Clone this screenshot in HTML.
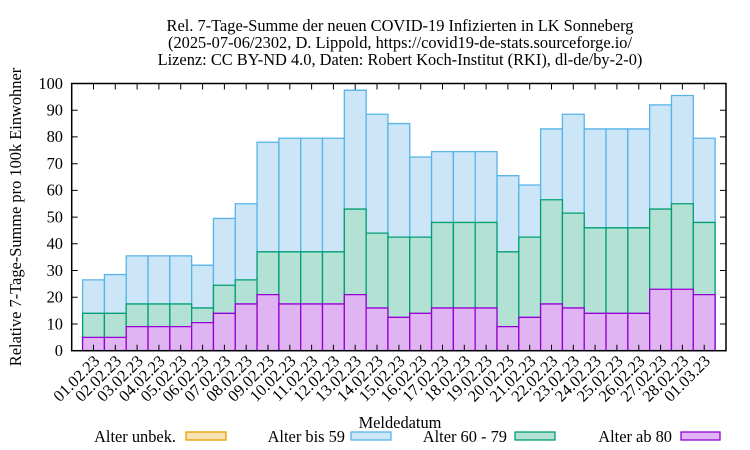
<!DOCTYPE html>
<html><head><meta charset="utf-8"><style>body{margin:0;background:#fff}svg{display:block}</style></head>
<body>
<svg width="750" height="450" xmlns="http://www.w3.org/2000/svg" font-family="Liberation Serif, serif" font-size="16.4" fill="#000">
<g text-anchor="middle">
<text x="400" y="31">Rel. 7-Tage-Summe der neuen COVID-19 Infizierten in LK Sonneberg</text>
<text x="400" y="48">(2025-07-06/2302, D. Lippold, https://covid19-de-stats.sourceforge.io/</text>
<text x="400" y="65">Lizenz: CC BY-ND 4.0, Daten: Robert Koch-Institut (RKI), dl-de/by-2-0)</text>
<text x="400" y="428">Meldedatum</text>
<text transform="translate(21,217) rotate(-90)">Relative 7-Tage-Summe pro 100k Einwohner</text>
</g>
<g transform="translate(82.6,350.7) scale(21.81,-2.672)" stroke-width="1.3">
<g fill="#cce6f8" stroke="#56b4e9">
<rect vector-effect="non-scaling-stroke" x="0" y="0" width="1" height="26.5"/>
<rect vector-effect="non-scaling-stroke" x="1" y="0" width="1" height="28.5"/>
<rect vector-effect="non-scaling-stroke" x="2" y="0" width="1" height="35.5"/>
<rect vector-effect="non-scaling-stroke" x="3" y="0" width="1" height="35.5"/>
<rect vector-effect="non-scaling-stroke" x="4" y="0" width="1" height="35.5"/>
<rect vector-effect="non-scaling-stroke" x="5" y="0" width="1" height="32"/>
<rect vector-effect="non-scaling-stroke" x="6" y="0" width="1" height="49.5"/>
<rect vector-effect="non-scaling-stroke" x="7" y="0" width="1" height="55"/>
<rect vector-effect="non-scaling-stroke" x="8" y="0" width="1" height="78"/>
<rect vector-effect="non-scaling-stroke" x="9" y="0" width="1" height="79.5"/>
<rect vector-effect="non-scaling-stroke" x="10" y="0" width="1" height="79.5"/>
<rect vector-effect="non-scaling-stroke" x="11" y="0" width="1" height="79.5"/>
<rect vector-effect="non-scaling-stroke" x="12" y="0" width="1" height="97.5"/>
<rect vector-effect="non-scaling-stroke" x="13" y="0" width="1" height="88.5"/>
<rect vector-effect="non-scaling-stroke" x="14" y="0" width="1" height="85"/>
<rect vector-effect="non-scaling-stroke" x="15" y="0" width="1" height="72.5"/>
<rect vector-effect="non-scaling-stroke" x="16" y="0" width="1" height="74.5"/>
<rect vector-effect="non-scaling-stroke" x="17" y="0" width="1" height="74.5"/>
<rect vector-effect="non-scaling-stroke" x="18" y="0" width="1" height="74.5"/>
<rect vector-effect="non-scaling-stroke" x="19" y="0" width="1" height="65.5"/>
<rect vector-effect="non-scaling-stroke" x="20" y="0" width="1" height="62"/>
<rect vector-effect="non-scaling-stroke" x="21" y="0" width="1" height="83"/>
<rect vector-effect="non-scaling-stroke" x="22" y="0" width="1" height="88.5"/>
<rect vector-effect="non-scaling-stroke" x="23" y="0" width="1" height="83"/>
<rect vector-effect="non-scaling-stroke" x="24" y="0" width="1" height="83"/>
<rect vector-effect="non-scaling-stroke" x="25" y="0" width="1" height="83"/>
<rect vector-effect="non-scaling-stroke" x="26" y="0" width="1" height="92"/>
<rect vector-effect="non-scaling-stroke" x="27" y="0" width="1" height="95.5"/>
<rect vector-effect="non-scaling-stroke" x="28" y="0" width="1" height="79.5"/>
</g>
<g fill="#b3e2d5" stroke="#009e73">
<rect vector-effect="non-scaling-stroke" x="0" y="0" width="1" height="14"/>
<rect vector-effect="non-scaling-stroke" x="1" y="0" width="1" height="14"/>
<rect vector-effect="non-scaling-stroke" x="2" y="0" width="1" height="17.5"/>
<rect vector-effect="non-scaling-stroke" x="3" y="0" width="1" height="17.5"/>
<rect vector-effect="non-scaling-stroke" x="4" y="0" width="1" height="17.5"/>
<rect vector-effect="non-scaling-stroke" x="5" y="0" width="1" height="16"/>
<rect vector-effect="non-scaling-stroke" x="6" y="0" width="1" height="24.5"/>
<rect vector-effect="non-scaling-stroke" x="7" y="0" width="1" height="26.5"/>
<rect vector-effect="non-scaling-stroke" x="8" y="0" width="1" height="37"/>
<rect vector-effect="non-scaling-stroke" x="9" y="0" width="1" height="37"/>
<rect vector-effect="non-scaling-stroke" x="10" y="0" width="1" height="37"/>
<rect vector-effect="non-scaling-stroke" x="11" y="0" width="1" height="37"/>
<rect vector-effect="non-scaling-stroke" x="12" y="0" width="1" height="53"/>
<rect vector-effect="non-scaling-stroke" x="13" y="0" width="1" height="44"/>
<rect vector-effect="non-scaling-stroke" x="14" y="0" width="1" height="42.5"/>
<rect vector-effect="non-scaling-stroke" x="15" y="0" width="1" height="42.5"/>
<rect vector-effect="non-scaling-stroke" x="16" y="0" width="1" height="48"/>
<rect vector-effect="non-scaling-stroke" x="17" y="0" width="1" height="48"/>
<rect vector-effect="non-scaling-stroke" x="18" y="0" width="1" height="48"/>
<rect vector-effect="non-scaling-stroke" x="19" y="0" width="1" height="37"/>
<rect vector-effect="non-scaling-stroke" x="20" y="0" width="1" height="42.5"/>
<rect vector-effect="non-scaling-stroke" x="21" y="0" width="1" height="56.5"/>
<rect vector-effect="non-scaling-stroke" x="22" y="0" width="1" height="51.5"/>
<rect vector-effect="non-scaling-stroke" x="23" y="0" width="1" height="46"/>
<rect vector-effect="non-scaling-stroke" x="24" y="0" width="1" height="46"/>
<rect vector-effect="non-scaling-stroke" x="25" y="0" width="1" height="46"/>
<rect vector-effect="non-scaling-stroke" x="26" y="0" width="1" height="53"/>
<rect vector-effect="non-scaling-stroke" x="27" y="0" width="1" height="55"/>
<rect vector-effect="non-scaling-stroke" x="28" y="0" width="1" height="48"/>
</g>
<g fill="#e0b3f2" stroke="#9400d3">
<rect vector-effect="non-scaling-stroke" x="0" y="0" width="1" height="5"/>
<rect vector-effect="non-scaling-stroke" x="1" y="0" width="1" height="5"/>
<rect vector-effect="non-scaling-stroke" x="2" y="0" width="1" height="9"/>
<rect vector-effect="non-scaling-stroke" x="3" y="0" width="1" height="9"/>
<rect vector-effect="non-scaling-stroke" x="4" y="0" width="1" height="9"/>
<rect vector-effect="non-scaling-stroke" x="5" y="0" width="1" height="10.5"/>
<rect vector-effect="non-scaling-stroke" x="6" y="0" width="1" height="14"/>
<rect vector-effect="non-scaling-stroke" x="7" y="0" width="1" height="17.5"/>
<rect vector-effect="non-scaling-stroke" x="8" y="0" width="1" height="21"/>
<rect vector-effect="non-scaling-stroke" x="9" y="0" width="1" height="17.5"/>
<rect vector-effect="non-scaling-stroke" x="10" y="0" width="1" height="17.5"/>
<rect vector-effect="non-scaling-stroke" x="11" y="0" width="1" height="17.5"/>
<rect vector-effect="non-scaling-stroke" x="12" y="0" width="1" height="21"/>
<rect vector-effect="non-scaling-stroke" x="13" y="0" width="1" height="16"/>
<rect vector-effect="non-scaling-stroke" x="14" y="0" width="1" height="12.5"/>
<rect vector-effect="non-scaling-stroke" x="15" y="0" width="1" height="14"/>
<rect vector-effect="non-scaling-stroke" x="16" y="0" width="1" height="16"/>
<rect vector-effect="non-scaling-stroke" x="17" y="0" width="1" height="16"/>
<rect vector-effect="non-scaling-stroke" x="18" y="0" width="1" height="16"/>
<rect vector-effect="non-scaling-stroke" x="19" y="0" width="1" height="9"/>
<rect vector-effect="non-scaling-stroke" x="20" y="0" width="1" height="12.5"/>
<rect vector-effect="non-scaling-stroke" x="21" y="0" width="1" height="17.5"/>
<rect vector-effect="non-scaling-stroke" x="22" y="0" width="1" height="16"/>
<rect vector-effect="non-scaling-stroke" x="23" y="0" width="1" height="14"/>
<rect vector-effect="non-scaling-stroke" x="24" y="0" width="1" height="14"/>
<rect vector-effect="non-scaling-stroke" x="25" y="0" width="1" height="14"/>
<rect vector-effect="non-scaling-stroke" x="26" y="0" width="1" height="23"/>
<rect vector-effect="non-scaling-stroke" x="27" y="0" width="1" height="23"/>
<rect vector-effect="non-scaling-stroke" x="28" y="0" width="1" height="21"/>
</g>
</g>
<path stroke="#000" stroke-width="1" fill="none" d="M71.7 324h6M71.7 297.3h6M71.7 270.5h6M71.7 243.8h6M71.7 217.1h6M71.7 190.4h6M71.7 163.7h6M71.7 136.9h6M71.7 110.2h6M720 324h6M720 297.3h6M720 270.5h6M720 243.8h6M720 217.1h6M720 190.4h6M720 163.7h6M720 136.9h6M720 110.2h6
M93.5 350.7v-6M115.3 350.7v-6M137.1 350.7v-6M158.9 350.7v-6M180.7 350.7v-6M202.6 350.7v-6M224.4 350.7v-6M246.2 350.7v-6M268 350.7v-6M289.8 350.7v-6M311.6 350.7v-6M333.4 350.7v-6M355.2 350.7v-6M377 350.7v-6M398.9 350.7v-6M420.7 350.7v-6M442.5 350.7v-6M464.3 350.7v-6M486.1 350.7v-6M507.9 350.7v-6M529.7 350.7v-6M551.5 350.7v-6M573.3 350.7v-6M595.1 350.7v-6M616.9 350.7v-6M638.8 350.7v-6M660.6 350.7v-6M682.4 350.7v-6M704.2 350.7v-6
M93.5 83.5v6M115.3 83.5v6M137.1 83.5v6M158.9 83.5v6M180.7 83.5v6M202.6 83.5v6M224.4 83.5v6M246.2 83.5v6M268 83.5v6M289.8 83.5v6M311.6 83.5v6M333.4 83.5v6M355.2 83.5v6M377 83.5v6M398.9 83.5v6M420.7 83.5v6M442.5 83.5v6M464.3 83.5v6M486.1 83.5v6M507.9 83.5v6M529.7 83.5v6M551.5 83.5v6M573.3 83.5v6M595.1 83.5v6M616.9 83.5v6M638.8 83.5v6M660.6 83.5v6M682.4 83.5v6M704.2 83.5v6"/>
<rect x="71.7" y="83.5" width="654.3" height="267.2" fill="none" stroke="#000" stroke-width="1.5"/>
<g text-anchor="end">
<text x="63" y="356">0</text><text x="63" y="329.3">10</text><text x="63" y="302.6">20</text><text x="63" y="275.8">30</text><text x="63" y="249.1">40</text><text x="63" y="222.4">50</text><text x="63" y="195.7">60</text><text x="63" y="169">70</text><text x="63" y="142.2">80</text><text x="63" y="115.5">90</text><text x="63" y="88.8">100</text>
<text transform="translate(100.5,362) rotate(-45)">01.02.23</text>
<text transform="translate(122.3,362) rotate(-45)">02.02.23</text>
<text transform="translate(144.1,362) rotate(-45)">03.02.23</text>
<text transform="translate(165.9,362) rotate(-45)">04.02.23</text>
<text transform="translate(187.7,362) rotate(-45)">05.02.23</text>
<text transform="translate(209.6,362) rotate(-45)">06.02.23</text>
<text transform="translate(231.4,362) rotate(-45)">07.02.23</text>
<text transform="translate(253.2,362) rotate(-45)">08.02.23</text>
<text transform="translate(275,362) rotate(-45)">09.02.23</text>
<text transform="translate(296.8,362) rotate(-45)">10.02.23</text>
<text transform="translate(318.6,362) rotate(-45)">11.02.23</text>
<text transform="translate(340.4,362) rotate(-45)">12.02.23</text>
<text transform="translate(362.2,362) rotate(-45)">13.02.23</text>
<text transform="translate(384,362) rotate(-45)">14.02.23</text>
<text transform="translate(405.9,362) rotate(-45)">15.02.23</text>
<text transform="translate(427.7,362) rotate(-45)">16.02.23</text>
<text transform="translate(449.5,362) rotate(-45)">17.02.23</text>
<text transform="translate(471.3,362) rotate(-45)">18.02.23</text>
<text transform="translate(493.1,362) rotate(-45)">19.02.23</text>
<text transform="translate(514.9,362) rotate(-45)">20.02.23</text>
<text transform="translate(536.7,362) rotate(-45)">21.02.23</text>
<text transform="translate(558.5,362) rotate(-45)">22.02.23</text>
<text transform="translate(580.3,362) rotate(-45)">23.02.23</text>
<text transform="translate(602.1,362) rotate(-45)">24.02.23</text>
<text transform="translate(623.9,362) rotate(-45)">25.02.23</text>
<text transform="translate(645.8,362) rotate(-45)">26.02.23</text>
<text transform="translate(667.6,362) rotate(-45)">27.02.23</text>
<text transform="translate(689.4,362) rotate(-45)">28.02.23</text>
<text transform="translate(711.2,362) rotate(-45)">01.03.23</text>
</g>
<g>
<text x="176" y="442" text-anchor="end">Alter unbek.</text>
<rect x="186" y="432" width="40" height="8" fill="#f9e2b2" stroke="#e69f00" stroke-width="1.3"/>
<text x="345" y="442" text-anchor="end">Alter bis 59</text>
<rect x="351" y="432" width="40" height="8" fill="#cce6f8" stroke="#56b4e9" stroke-width="1.3"/>
<text x="507" y="442" text-anchor="end">Alter 60 - 79</text>
<rect x="515" y="432" width="40" height="8" fill="#b3e2d5" stroke="#009e73" stroke-width="1.3"/>
<text x="672" y="442" text-anchor="end">Alter ab 80</text>
<rect x="681" y="432" width="39" height="8" fill="#e0b3f2" stroke="#9400d3" stroke-width="1.3"/>
</g>
</svg>
</body></html>
